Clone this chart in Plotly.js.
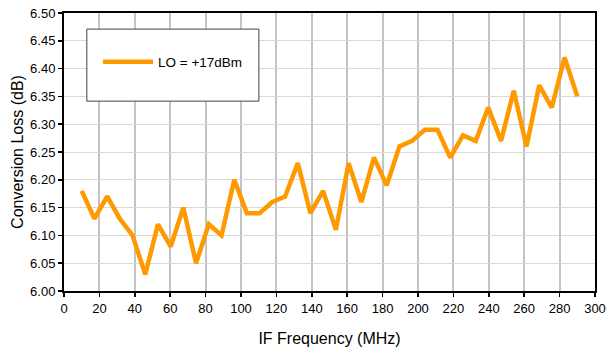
<!DOCTYPE html>
<html>
<head>
<meta charset="utf-8">
<script src="https://cdn.plot.ly/plotly-3.0.1.min.js"></script>
<style>html,body{margin:0;padding:0;background:#fff}#chart{width:616px;height:349px}</style>
</head>
<body>
<div id="chart"></div>
<script>
const ifFreqMHz = [10, 17.2, 24.4, 31.5, 38.7, 45.9, 53.1, 60.3, 67.4, 74.6,
  81.8, 89.0, 96.2, 103.3, 110.5, 117.7, 124.9, 132.1, 139.2, 146.4,
  153.6, 160.8, 168.0, 175.1, 182.3, 189.5, 196.7, 203.8, 211.0, 218.2,
  225.4, 232.6, 239.7, 246.9, 254.1, 261.3, 268.5, 275.6, 282.8, 290];
const lossLO17 = [6.18, 6.13, 6.17, 6.13, 6.10, 6.03, 6.12, 6.08, 6.15, 6.05,
  6.12, 6.10, 6.20, 6.14, 6.14, 6.16, 6.17, 6.23, 6.14, 6.18,
  6.11, 6.23, 6.16, 6.24, 6.19, 6.26, 6.27, 6.29, 6.29, 6.24,
  6.28, 6.27, 6.33, 6.27, 6.36, 6.26, 6.37, 6.33, 6.42, 6.35];
const seriesName = 'LO = +17dBm';
const xTickVals = [0,20,40,60,80,100,120,140,160,180,200,220,240,260,280,300];
const yTickVals = [6.00,6.05,6.10,6.15,6.20,6.25,6.30,6.35,6.40,6.45,6.50];
const yTickText = yTickVals.map(v => v.toFixed(2));

const font = {family: 'Arial, "Liberation Sans", sans-serif', color: '#000'};

Plotly.newPlot('chart', [{
  x: ifFreqMHz, y: lossLO17, type: 'scatter', mode: 'lines', name: seriesName,
  line: {color: '#FF9900', width: 4.5, shape: 'linear'}
}], {
  width: 616, height: 349,
  margin: {l: 64, r: 21, t: 13, b: 58},
  paper_bgcolor: '#fff', plot_bgcolor: '#fff',
  font: Object.assign({size: 13}, font),
  showlegend: true,
  legend: {
    x: 0.064, y: 0.824, xanchor: 'left', yanchor: 'middle',
    bgcolor: 'rgba(0,0,0,0)', borderwidth: 0,
    font: Object.assign({size: 13.5}, font), itemwidth: 50
  },
  shapes: [{
    type: 'rect', xref: 'paper', yref: 'paper',
    x0: 0.043, x1: 0.367, y0: 0.683, y1: 0.942,
    line: {color: '#404040', width: 1}, fillcolor: '#fff', layer: 'above'
  }],
  xaxis: {
    range: [0, 300], tickvals: xTickVals, ticktext: xTickVals.map(String),
    showgrid: true, gridcolor: '#c4c4c4', gridwidth: 2,
    showline: true, linecolor: '#000', linewidth: 2, mirror: true,
    ticks: 'outside', ticklen: 4, tickwidth: 1.5, tickcolor: '#000',
    zeroline: false, tickfont: Object.assign({size: 13}, font),
    title: {text: 'IF Frequency (MHz)', font: Object.assign({size: 16}, font), standoff: 18}
  },
  yaxis: {
    range: [6.00, 6.50], tickvals: yTickVals, ticktext: yTickText,
    showgrid: true, gridcolor: '#d9d9d9', gridwidth: 1,
    showline: true, linecolor: '#000', linewidth: 2, mirror: true,
    ticks: 'outside', ticklen: 4, tickwidth: 1.5, tickcolor: '#000',
    zeroline: false, tickfont: Object.assign({size: 13}, font),
    title: {text: 'Conversion Loss (dB)', font: Object.assign({size: 16}, font), standoff: 2}
  }
}, {staticPlot: true, displayModeBar: false});
</script>
</body>
</html>
